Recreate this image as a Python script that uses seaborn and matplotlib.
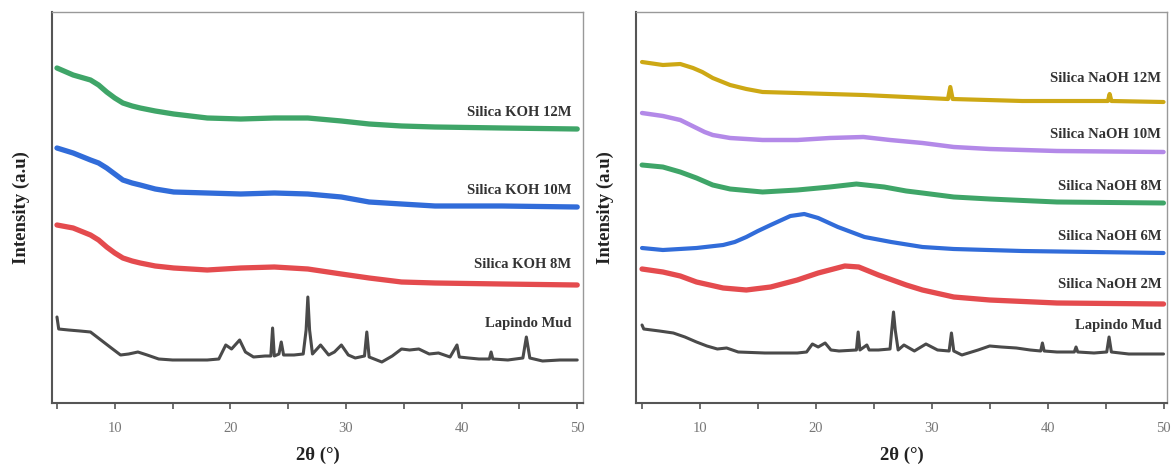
import matplotlib
matplotlib.use("Agg")
import matplotlib.pyplot as plt
import pandas as pd
import seaborn as sns

# ---- data (intensity in arbitrary units) ----
two_theta_koh = [5, 6.4, 7.9, 8.6, 9.3, 10, 10.7, 11.5, 12.2, 13.5, 15.1, 18, 20.9, 23.8, 26.7,
                 29.6, 32, 34.8, 37.7, 43.5, 50]
koh_12m = [335, 328, 323, 318, 311, 305, 300, 297, 295, 292, 289, 285, 284, 285, 285,
           282, 279, 277, 276, 275, 274]
koh_10m = [255, 250, 243, 240, 235, 229, 223, 220, 218, 214, 211, 210, 209, 210, 209,
           206, 201, 199, 197, 197, 196]
koh_8m = [178, 175, 168, 163, 156, 150, 145, 142, 140, 137, 135, 133, 135, 136, 134,
          129, 125, 121, 120, 119, 118]

two_theta_mud_l = [5.0, 5.15, 6.0, 7.0, 7.9, 8.8, 9.7, 10.5, 11.2, 12.0, 12.8, 13.8, 15.0, 16.5, 18.0,
                   19.0, 19.6, 20.1, 20.8, 21.3, 22.0, 23.0, 23.5, 23.65, 23.8, 24.2, 24.4, 24.6, 25.5,
                   26.3, 26.55, 26.7, 26.85, 27.1, 27.8, 28.5, 29.0, 29.6, 30.2, 30.8, 31.6, 31.8, 32.0,
                   33.1, 34.0, 34.8, 35.5, 36.3, 37.2, 38.0, 39.0, 39.6, 39.8, 40.6, 41.5, 42.4, 42.55,
                   42.7, 44.0, 45.3, 45.6, 45.9, 47.0, 48.5, 50.0]
mud_l = [86, 74, 73, 72, 71, 63, 55, 48, 49, 51, 48, 44, 43, 43, 43,
         44, 58, 54, 63, 51, 46, 47, 47, 75, 47, 49, 61, 48, 48,
         49, 73, 106, 73, 49, 58, 48, 51, 58, 48, 45, 47, 71, 46,
         41, 47, 54, 53, 54, 49, 50, 46, 58, 46, 45, 44, 44, 51,
         44, 43, 45, 66, 45, 42, 43, 43]

two_theta_naoh12 = [5, 6.8, 8.3, 9.4, 10.2, 11.1, 12.6, 14, 15.4, 18.4, 21.2, 24.1, 27.8, 31.4, 31.6,
                    31.8, 37.8, 45.2, 45.35, 45.5, 50]
naoh_12m = [341, 338, 339, 335, 331, 325, 318, 314, 311, 310, 309, 308, 306, 304, 316,
            304, 302, 302, 309, 302, 301]

two_theta_naoh10 = [5, 6.8, 8.3, 9.7, 10.4, 11.1, 12.6, 15.4, 18.4, 21.2, 24.1, 26.4, 29.2, 31.9, 35, 40.8, 50]
naoh_10m = [290, 287, 283, 275, 271, 268, 265, 263, 263, 265, 266, 263, 260, 256, 254, 252, 251]

two_theta_naoh8 = [5, 6.8, 8.3, 9.7, 11.1, 12.6, 15.4, 18.4, 21.2, 23.5, 25.9, 27.8, 29.2, 31.9, 35, 40.8, 50]
naoh_8m = [238, 236, 231, 225, 218, 214, 211, 213, 216, 219, 216, 212, 210, 206, 204, 201, 200]

two_theta_naoh6 = [5, 6.8, 9.7, 12, 13, 14, 15, 16.1, 17.8, 19, 20.2, 21.9, 24.2, 26.5, 29.2, 31.9, 37.8, 50]
naoh_6m = [155, 153, 155, 158, 161, 166, 172, 178, 187, 189, 185, 176, 166, 161, 156, 154, 152, 150]

two_theta_naoh2 = [5, 6.8, 8.3, 9.7, 12, 14, 16.1, 18.4, 20.2, 22.5, 23.7, 25.4, 27.8, 29.2, 31.9, 35, 40.8, 50]
naoh_2m = [134, 131, 127, 121, 115, 113, 116, 123, 130, 137, 136, 128, 118, 113, 106, 103, 100, 99]

two_theta_mud_r = [5.0, 5.15, 6.5, 7.7, 8.7, 9.7, 10.6, 11.5, 12.3, 13.3, 15.6, 18.4, 19.2, 19.7, 20.2,
                   20.8, 21.3, 22.0, 23.5, 23.65, 23.8, 24.4, 24.6, 25.4, 26.4, 26.55, 26.7, 26.85, 27.1,
                   27.6, 28.5, 29.5, 30.5, 31.5, 31.7, 31.9, 32.6, 34.0, 35.0, 36.0, 37.3, 38.5, 39.4,
                   39.55, 39.7, 40.8, 42.3, 42.45, 42.6, 44.0, 45.1, 45.3, 45.5, 47.0, 50.0]
mud_r = [78, 74, 72, 70, 66, 61, 57, 54, 55, 51, 50, 50, 51, 59, 56,
         60, 53, 52, 53, 71, 53, 58, 53, 53, 54, 73, 91, 73, 53,
         58, 52, 59, 53, 52, 70, 52, 48, 53, 57, 56, 55, 53, 52,
         60, 52, 51, 51, 56, 51, 50, 51, 66, 51, 49, 49]

koh_labels = ["Silica KOH 12M", "Silica KOH 10M", "Silica KOH 8M", "Lapindo Mud"]
naoh_labels = ["Silica NaOH 12M", "Silica NaOH 10M", "Silica NaOH 8M", "Silica NaOH 6M", "Silica NaOH 2M", "Lapindo Mud"]

sns.set_style("ticks")
plt.rcParams['font.family'] = ['Liberation Serif', 'DejaVu Serif']

fig = plt.figure(figsize=(11.71, 4.67), dpi=100)
W, H = 1171, 467
ax1 = fig.add_axes([52 / W, (H - 403) / H, (583 - 52) / W, (403 - 12) / H])
ax2 = fig.add_axes([636 / W, (H - 403) / H, (1167 - 636) / W, (403 - 12) / H])

left_series = [
    (two_theta_koh, koh_12m, '#2e9e5b', 3.8, koh_labels[0], 291),
    (two_theta_koh, koh_10m, '#1f5fd6', 3.8, koh_labels[1], 213),
    (two_theta_koh, koh_8m, '#e23b3f', 3.8, koh_labels[2], 138),
    (two_theta_mud_l, mud_l, '#3a3a3a', 2.2, koh_labels[3], 80),
]
right_series = [
    (two_theta_naoh12, naoh_12m, '#c9a100', 3.0, naoh_labels[0], 324),
    (two_theta_naoh10, naoh_10m, '#ad7fe6', 3.2, naoh_labels[1], 268),
    (two_theta_naoh8, naoh_8m, '#2e9e5b', 3.6, naoh_labels[2], 217),
    (two_theta_naoh6, naoh_6m, '#1f5fd6', 3.0, naoh_labels[3], 166),
    (two_theta_naoh2, naoh_2m, '#e23b3f', 3.8, naoh_labels[4], 118),
    (two_theta_mud_r, mud_r, '#3a3a3a', 2.2, naoh_labels[5], 78),
]

for ax, series, xlim, lab_x in [(ax1, left_series, (4.57, 50.5), 49.5),
                                (ax2, right_series, (4.48, 50.3), 49.8)]:
    for x, y, c, lw, lab, ly in series:
        df = pd.DataFrame({'x': x, 'y': y})
        sns.lineplot(data=df, x='x', y='y', ax=ax, color=c, lw=lw, sort=False,
                     alpha=0.92, solid_joinstyle='round', solid_capstyle='round')
        ax.text(lab_x, ly, lab, ha='right', va='center', fontsize=10.5,
                fontweight='bold', color='#333333')
    ax.set_xlim(*xlim)
    ax.set_ylim(0, 391)
    ax.set_yticks([])
    ax.set_xticks([10, 20, 30, 40, 50])
    ax.set_xticks([5, 15, 25, 35, 45], minor=True)
    ax.tick_params(axis='x', which='both', direction='out', length=4, width=1.2,
                   color='#555555', labelsize=10.5, labelcolor='#777777', pad=10)
    ax.set_xlabel('2θ (°)', fontsize=13.5, fontweight='bold', color='#222222', labelpad=8)
    ax.set_ylabel('Intensity (a.u)', fontsize=13.5, fontweight='bold', color='#222222', labelpad=16)
    for side in ['left', 'bottom']:
        ax.spines[side].set_color('#555555')
        ax.spines[side].set_linewidth(1.5)
    for side in ['top', 'right']:
        ax.spines[side].set_color('#999999')
        ax.spines[side].set_linewidth(1.0)

fig.savefig('out.png', dpi=100)
